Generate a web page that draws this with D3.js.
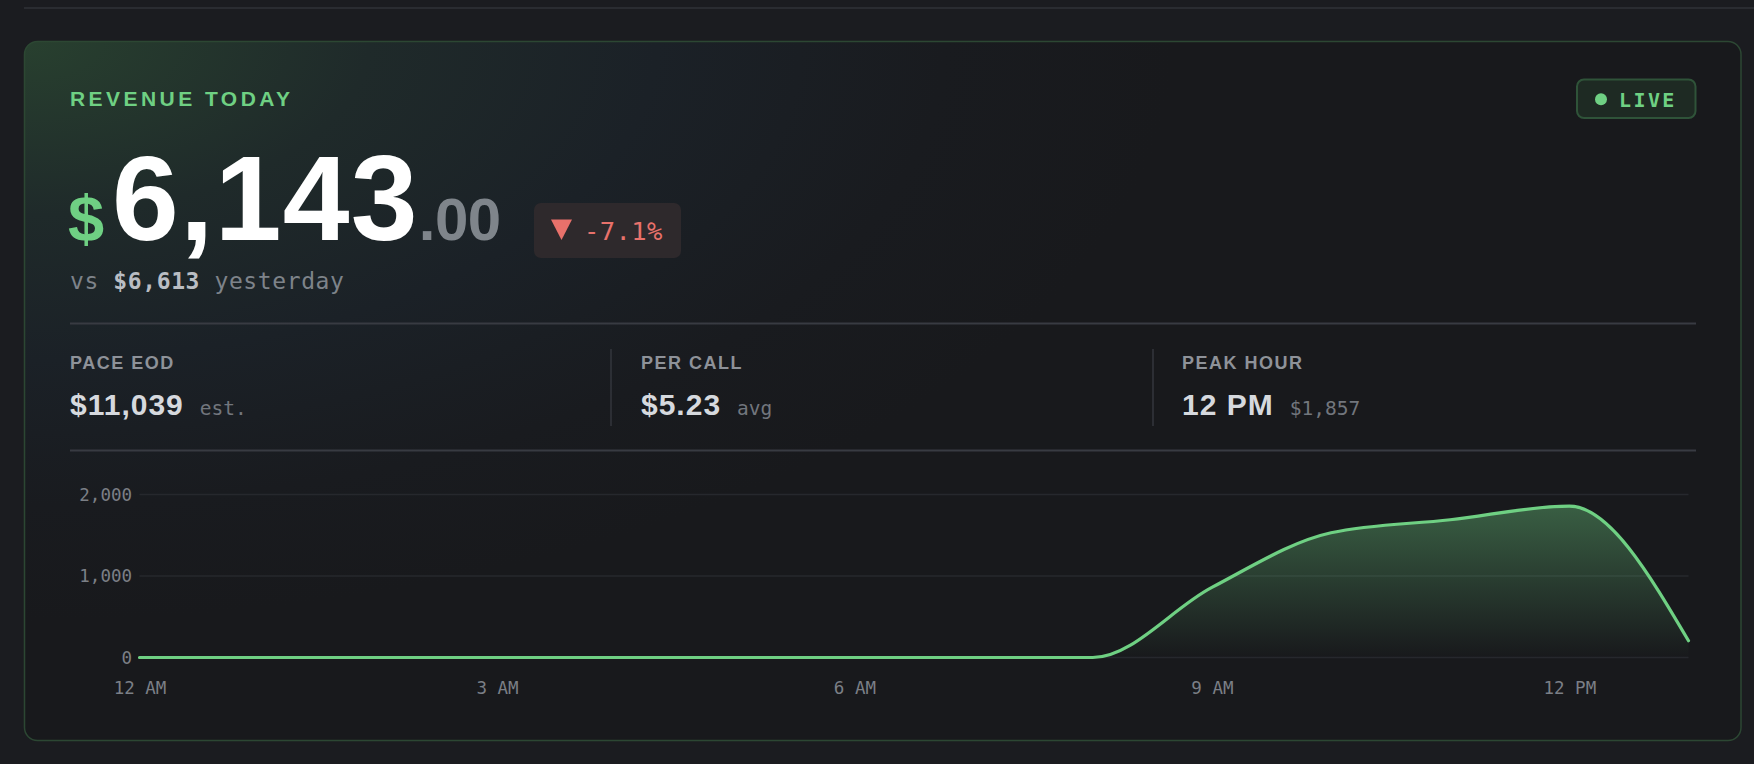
<!DOCTYPE html>
<html>
<head>
<meta charset="utf-8">
<script src="https://cdn.jsdelivr.net/npm/d3@7"></script>
<style>
  html, body { margin: 0; padding: 0; background: #1b1c20; }
  svg { display: block; }
</style>
</head>
<body>
<svg id="chart" width="1754" height="764"></svg>
<script>
// ---- data ----
const hours = [0, 1, 2, 3, 4, 5, 6, 7, 8, 9, 10, 11, 12, 13];
const revenue = [0, 0, 0, 0, 0, 0, 0, 0, 0, 860, 1530, 1690, 1857, 206];
const yTicks = [0, 1000, 2000];
const xTickHours = [0, 3, 6, 9, 12];
const xTickLabels = ["12 AM", "3 AM", "6 AM", "9 AM", "12 PM"];
const title = "REVENUE TODAY";
const totalWhole = "6,143";
const totalCents = ".00";
const changeText = "-7.1%";
const yesterdayText = ["vs ", "$6,613", " yesterday"];
const statLabels = ["PACE EOD", "PER CALL", "PEAK HOUR"];
const statValues = ["$11,039", "$5.23", "12 PM"];
const statSuffixes = ["est.", "avg", "$1,857"];

const SANS = "'Liberation Sans', Arial, Helvetica, sans-serif";
const MONO = "'DejaVu Sans Mono', 'Liberation Mono', monospace";
const GREEN = "#6fd083";

const svg = d3.select("#chart");
const defs = svg.append("defs");

// card background glow (elliptical radial from top-left)
const cg = defs.append("radialGradient").attr("id", "cardGrad")
  .attr("gradientUnits", "userSpaceOnUse")
  .attr("cx", 0).attr("cy", 0).attr("r", 1)
  .attr("gradientTransform", "translate(24,41) scale(1150,580)");
cg.append("stop").attr("offset", 0).attr("stop-color", "#28402f");
cg.append("stop").attr("offset", 0.3).attr("stop-color", "#1f2a2a");
cg.append("stop").attr("offset", 0.55).attr("stop-color", "#1b2127");
cg.append("stop").attr("offset", 0.8).attr("stop-color", "#191b1f");
cg.append("stop").attr("offset", 1).attr("stop-color", "#18191c");

const ag = defs.append("linearGradient").attr("id", "areaGrad");
ag.append("stop").attr("offset", 0).attr("stop-color", GREEN).attr("stop-opacity", 0.38);
ag.append("stop").attr("offset", 1).attr("stop-color", GREEN).attr("stop-opacity", 0.0);

// top hairline
svg.append("line").attr("x1", 24).attr("x2", 1754).attr("y1", 8).attr("y2", 8)
  .attr("stroke", "#2a2c31").attr("stroke-width", 2);

// card
svg.append("rect").attr("x", 24.5).attr("y", 41.5).attr("width", 1716.5).attr("height", 699)
  .attr("rx", 13).attr("fill", "#18191c");
svg.append("rect").attr("x", 24.5).attr("y", 41.5).attr("width", 1716.5).attr("height", 699)
  .attr("rx", 13).attr("fill", "url(#cardGrad)").attr("stroke", "#2c4733").attr("stroke-width", 1.5);

// title
svg.append("text").attr("x", 70).attr("y", 106).text(title)
  .attr("font-family", SANS).attr("font-weight", 700).attr("font-size", 21)
  .attr("letter-spacing", 3.45).attr("fill", GREEN);

// LIVE badge
svg.append("rect").attr("x", 1577).attr("y", 79.5).attr("width", 118.5).attr("height", 38.5)
  .attr("rx", 7).attr("fill", "#1e2a23").attr("stroke", "#2f5339").attr("stroke-width", 2);
svg.append("circle").attr("cx", 1601).attr("cy", 99.3).attr("r", 6).attr("fill", GREEN);
svg.append("text").attr("x", 1619).attr("y", 106.5).text("LIVE")
  .attr("font-family", MONO).attr("font-weight", 700).attr("font-size", 20)
  .attr("letter-spacing", 2.4).attr("fill", GREEN);

// big number
svg.append("text").attr("x", 68).attr("y", 241).text("$")
  .attr("font-family", SANS).attr("font-weight", 700).attr("font-size", 65).attr("fill", GREEN);
const big = svg.append("text").attr("x", 112).attr("y", 240).text(totalWhole)
  .attr("font-family", SANS).attr("font-weight", 700).attr("font-size", 120)
  .attr("letter-spacing", 1.3).attr("fill", "#ffffff");
const bigW = big.node().getComputedTextLength();
svg.append("text").attr("x", 112 + bigW).attr("y", 240).text(totalCents)
  .attr("font-family", SANS).attr("font-weight", 700).attr("font-size", 60)
  .attr("letter-spacing", -0.5).attr("fill", "#7f858b");

// change badge
svg.append("rect").attr("x", 534).attr("y", 203).attr("width", 147).attr("height", 55)
  .attr("rx", 7).attr("fill", "#2e292c");
svg.append("path").attr("d", "M551,219.5 L572,219.5 L561.5,240 Z").attr("fill", "#e8716b");
svg.append("text").attr("x", 584).attr("y", 240).text(changeText)
  .attr("font-family", MONO).attr("font-size", 25.5).attr("letter-spacing", 0.4).attr("fill", "#e8716b");

// vs yesterday
const vs = svg.append("text").attr("x", 70).attr("y", 289)
  .attr("font-family", MONO).attr("font-size", 23).attr("letter-spacing", 0.6).attr("fill", "#7e838a");
vs.append("tspan").text(yesterdayText[0]);
vs.append("tspan").text(yesterdayText[1]).attr("font-weight", 700).attr("fill", "#b9bdc3");
vs.append("tspan").text(yesterdayText[2]);

// separators
[323.5, 450.5].forEach(y => {
  svg.append("line").attr("x1", 70).attr("x2", 1696).attr("y1", y).attr("y2", y)
    .attr("stroke", "#383b42").attr("stroke-width", 2);
});

// stats
const statX = [70, 641, 1182];
[611, 1153].forEach(x => {
  svg.append("line").attr("x1", x).attr("x2", x).attr("y1", 349).attr("y2", 426)
    .attr("stroke", "#33363c").attr("stroke-width", 1.5);
});
statLabels.forEach((lab, i) => {
  svg.append("text").attr("x", statX[i]).attr("y", 369).text(lab)
    .attr("font-family", SANS).attr("font-weight", 700).attr("font-size", 18)
    .attr("letter-spacing", 1.5).attr("fill", "#8e9299");
  const v = svg.append("text").attr("x", statX[i]).attr("y", 415).text(statValues[i])
    .attr("font-family", SANS).attr("font-weight", 700).attr("font-size", 30)
    .attr("letter-spacing", 1.0).attr("fill", "#d6d9de");
  const w = v.node().getComputedTextLength();
  svg.append("text").attr("x", statX[i] + w + 16).attr("y", 415).text(statSuffixes[i])
    .attr("font-family", MONO).attr("font-size", 19.5).attr("fill", "#72767d");
});

// ---- chart ----
const x = d3.scaleLinear().domain([0, 13]).range([139.5, 1688.5]);
const y = d3.scaleLinear().domain([0, 2000]).range([657.5, 494.5]);

const grid = svg.append("g");
grid.selectAll("line").data(yTicks).join("line")
  .attr("x1", x(0)).attr("x2", x(13))
  .attr("y1", d => y(d)).attr("y2", d => y(d))
  .attr("stroke", "#26282d").attr("stroke-width", 1.5);

const yAxis = d3.axisLeft(y).tickValues(yTicks).tickFormat(d3.format(",")).tickSize(0).tickPadding(0);
const yg = svg.append("g").attr("transform", "translate(132,0)").call(yAxis);
yg.select(".domain").remove();
yg.selectAll("text").attr("font-family", MONO).attr("font-size", 17.5).attr("fill", "#7b7f86");

const xAxis = d3.axisBottom(x).tickValues(xTickHours)
  .tickFormat((d, i) => xTickLabels[i]).tickSize(0).tickPadding(0);
const xg = svg.append("g").attr("transform", "translate(0,682)").call(xAxis);
xg.select(".domain").remove();
xg.selectAll("text").attr("font-family", MONO).attr("font-size", 17.5).attr("fill", "#7b7f86");

const pts = hours.map((h, i) => [h, revenue[i]]);
const area = d3.area().x(d => x(d[0])).y0(y(0)).y1(d => y(d[1])).curve(d3.curveMonotoneX);
const line = d3.line().x(d => x(d[0])).y(d => y(d[1])).curve(d3.curveMonotoneX);

ag.attr("gradientUnits", "userSpaceOnUse").attr("x1", 0).attr("y1", y(1857)).attr("x2", 0).attr("y2", y(0));
svg.append("path").datum(pts).attr("d", area).attr("fill", "url(#areaGrad)");
svg.append("path").datum(pts).attr("d", line).attr("fill", "none")
  .attr("stroke", GREEN).attr("stroke-width", 3.2).attr("stroke-linejoin", "round").attr("stroke-linecap", "round");
</script>
</body>
</html>
